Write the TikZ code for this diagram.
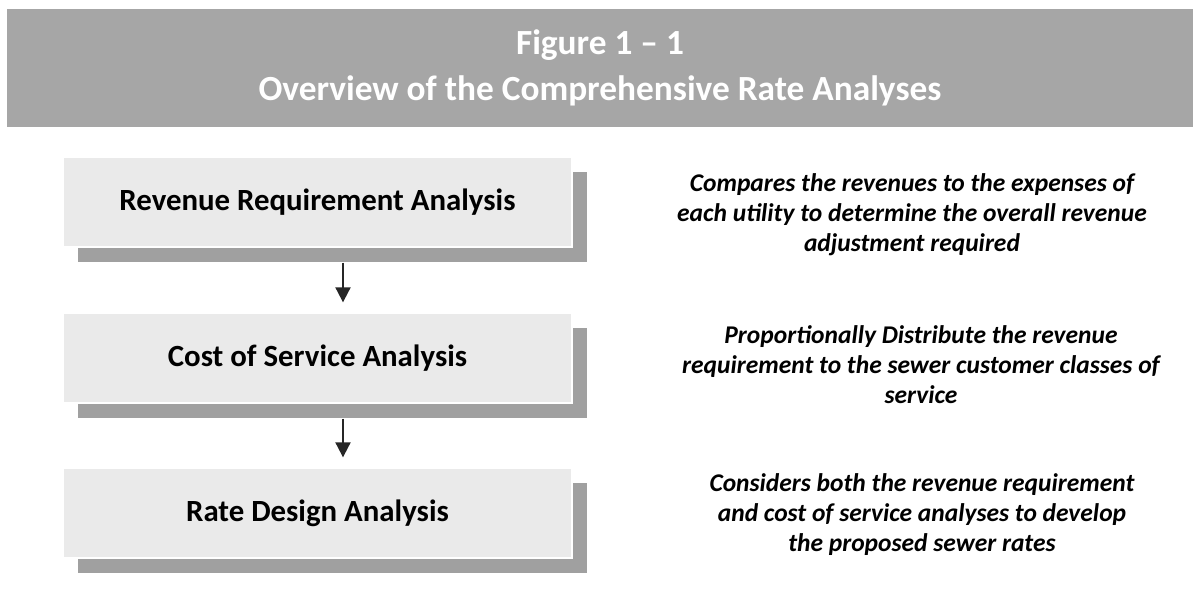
\documentclass[tikz,border=0pt]{standalone}
\usepackage{fontspec}
\setmainfont{Carlito}
\usepackage{xcolor}
\usepackage{tikz}
\usetikzlibrary{
  arrows.meta,
  calc,
  positioning,
  shadows
}
\definecolor{bannergray}{RGB}{166,166,166}
\definecolor{stagegray}{RGB}{234,234,234}
\definecolor{shadegray}{RGB}{160,160,160}

\begin{document}
\begin{tikzpicture}[
  x=0.6pt, y=-0.6pt,
  banner/.style={fill=bannergray, minimum width=711.6pt, minimum height=70.8pt,
               inner sep=0pt, align=center, text=white, font=\bfseries\fontsize{21.2}{28}\selectfont},
  stage/.style={fill=stagegray, draw=white, line width=0.8pt, minimum width=305.4pt,
               minimum height=54pt, inner sep=0pt, align=center, font=\bfseries\fontsize{18.5}{22}\selectfont,
               general shadow={fill=shadegray, shadow xshift=9pt, shadow yshift=-9pt}},
  note/.style={align=center, inner sep=0pt, font=\bfseries\itshape\fontsize{15.3}{18}\selectfont},
  arr/.style={-{Triangle[width=9pt, length=9pt]}, line width=1.2pt, black!85}
]
  \useasboundingbox (0,0) rectangle (1200,602);

  % title banner
  \node[banner] (title) at (600,68) {Figure 1 -- 1\\Overview of the Comprehensive Rate Analyses};

  % the three analyses
  \node[stage] (rr) at (317.5,202) {Revenue Requirement Analysis};
  \node[stage] (cs) at (317.5,358) {Cost of Service Analysis};
  \node[stage] (rd) at (317.5,513) {Rate Design Analysis};

  \draw[arr] ([xshift=15.3pt, yshift=-9pt]rr.south) -- ([xshift=15.3pt, yshift=6pt]cs.north);
  \draw[arr] ([xshift=15.3pt, yshift=-9pt]cs.south) -- ([xshift=15.3pt, yshift=6pt]rd.north);

  % descriptions
  \node[note] (rrtxt) at (912,215) {Compares the revenues to the expenses of\\each utility to determine the overall revenue\\adjustment required};
  \node[note] (cstxt) at (921,365) {Proportionally Distribute the revenue\\requirement to the sewer customer classes of\\service};
  \node[note] (rdtxt) at (922,515) {Considers both the revenue requirement\\and cost of service analyses to develop\\the proposed sewer rates};
\end{tikzpicture}
\end{document}
